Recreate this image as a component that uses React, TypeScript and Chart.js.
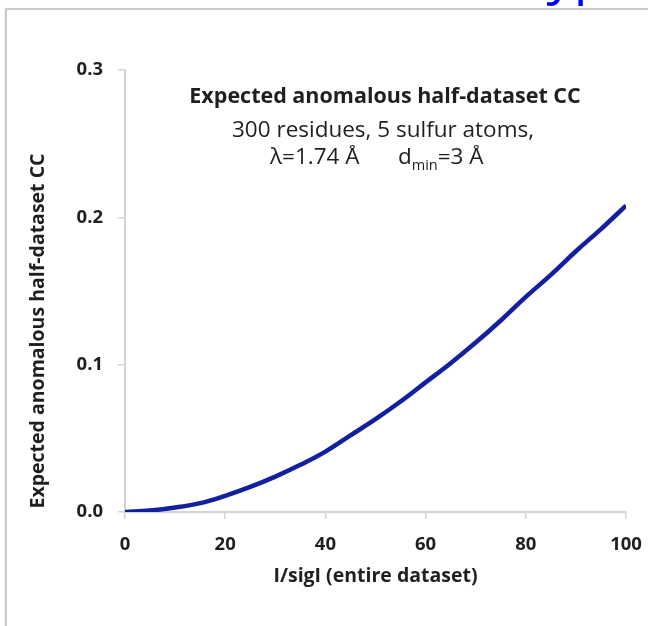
import React, { useEffect, useRef } from "react";
import { Chart, registerables } from "chart.js";

Chart.register(...registerables);

const I_OVER_SIGI = [0, 5, 10, 15, 20, 25, 30, 35, 40, 45, 50, 55, 60, 65, 70, 75, 80, 85, 90, 95, 100];
const EXPECTED_CC = [0, 0.001, 0.003, 0.006, 0.011, 0.017, 0.024, 0.032, 0.041, 0.052, 0.063, 0.075, 0.088, 0.101, 0.115, 0.13, 0.146, 0.161, 0.177, 0.192, 0.208];
const X_TICKS = [0, 20, 40, 60, 80, 100];
const Y_TICKS = [0, 0.1, 0.2, 0.3];

const TITLE = "Expected anomalous half-dataset CC";
const SUBTITLE = "300 residues, 5 sulfur atoms,";
const LINE3_A = "λ=1.74 Å";
const LINE3_D = "d";
const LINE3_SUB = "min";
const LINE3_B = "=3 Å";
const X_TITLE = "I/sigI (entire dataset)";
const Y_TITLE = "Expected anomalous half-dataset CC";
const SLIDE_TEXT = "atom type";

const FONT = "'Open Sans', Lato, sans-serif";
const TEXT_COLOR = "#1f1f1f";

const annotations = {
  id: "annotations",
  afterDraw(chart: any) {
    const ctx = chart.ctx as CanvasRenderingContext2D;
    ctx.save();
    ctx.fillStyle = TEXT_COLOR;
    ctx.textBaseline = "alphabetic";
    ctx.textAlign = "center";
    ctx.font = `bold 21.5px ${FONT}`;
    ctx.fillText(TITLE, 385, 103);
    ctx.font = `22.5px ${FONT}`;
    ctx.fillText(SUBTITLE, 383, 137);

    // third line, left aligned pieces
    ctx.textAlign = "left";
    let x = 270;
    const base = 164;
    ctx.font = `22.5px ${FONT}`;
    ctx.fillText(LINE3_A, x, base);
    x = 398;
    ctx.fillText(LINE3_D, x, base);
    x += ctx.measureText(LINE3_D).width;
    ctx.font = `14.5px ${FONT}`;
    ctx.fillText(LINE3_SUB, x, base + 6);
    x += ctx.measureText(LINE3_SUB).width;
    ctx.font = `22.5px ${FONT}`;
    ctx.fillText(LINE3_B, x, base);

    // slide heading fragment at top right (blue)
    ctx.fillStyle = "#0000ff";
    ctx.font = `60px ${FONT}`;
    const w60 = ctx.measureText(SLIDE_TEXT).width;
    const size = (60 * 258) / w60;
    ctx.font = `${size.toFixed(1)}px ${FONT}`;
    ctx.fillText(SLIDE_TEXT, 380, -7);

    // y axis title
    ctx.fillStyle = TEXT_COLOR;
    ctx.translate(44, 331);
    ctx.rotate(-Math.PI / 2);
    ctx.textAlign = "center";
    ctx.font = `bold 19.5px ${FONT}`;
    ctx.fillText(Y_TITLE, 0, 0);
    ctx.restore();
  },
};

export default function App() {
  const ref = useRef<HTMLCanvasElement | null>(null);
  useEffect(() => {
    if (!ref.current) return;
    const data = I_OVER_SIGI.map((v, i) => ({ x: v, y: EXPECTED_CC[i] }));
    const chart = new Chart(ref.current, {
      type: "line",
      data: {
        datasets: [
          {
            data,
            borderColor: "#12209f",
            borderWidth: 4.5,
            pointRadius: 0,
            tension: 0.4,
            fill: false,
          },
        ],
      },
      options: {
        animation: false,
        responsive: false,
        maintainAspectRatio: false,
        layout: { padding: { left: 0, top: 70, right: 22, bottom: 0 } },
        plugins: { legend: { display: false }, tooltip: { enabled: false } },
        scales: {
          x: {
            type: "linear",
            min: 0,
            max: 100,
            afterFit(scale: any) {
              scale.height = 114;
              scale.paddingLeft = 0;
              scale.paddingRight = 0;
            },
            afterBuildTicks(scale: any) {
              scale.ticks = X_TICKS.map((v) => ({ value: v }));
            },
            ticks: {
              color: TEXT_COLOR,
              font: { family: FONT, size: 18.5, weight: "bold" },
              padding: 15,
              maxRotation: 0,
            },
            grid: {
              drawOnChartArea: false,
              drawTicks: true,
              tickLength: 7,
              color: "#d4d4d4",
              lineWidth: 1.5,
            },
            border: { color: "#d4d4d4", width: 2 },
            title: {
              display: true,
              text: X_TITLE,
              color: TEXT_COLOR,
              font: { family: FONT, size: 19.5, weight: "bold" },
              padding: { top: 0, bottom: 38 },
            },
          },
          y: {
            type: "linear",
            min: 0,
            max: 0.3,
            afterFit(scale: any) {
              scale.width = 125;
              scale.paddingTop = 0;
              scale.paddingBottom = 0;
            },
            afterBuildTicks(scale: any) {
              scale.ticks = Y_TICKS.map((v) => ({ value: v }));
            },
            ticks: {
              color: TEXT_COLOR,
              font: { family: FONT, size: 18.5, weight: "bold" },
              padding: 15,
              callback: (v: any) => Number(v).toFixed(1),
            },
            grid: {
              drawOnChartArea: false,
              drawTicks: true,
              tickLength: 7,
              color: "#d4d4d4",
              lineWidth: 1.5,
            },
            border: { color: "#d4d4d4", width: 2 },
          },
        },
      },
      plugins: [annotations],
    });
    return () => chart.destroy();
  }, []);

  return (
    <div style={{ position: "fixed", left: 0, top: 0, width: 648, height: 626, overflow: "hidden", background: "#fff" }}>
      <div
        style={{
          position: "absolute",
          left: 5,
          top: 8,
          width: 720,
          height: 700,
          borderLeft: "2px solid #c9c9c9",
          borderTop: "2px solid #c9c9c9",
          boxShadow: "0 1px 2px rgba(0,0,0,0.15)",
        }}
      />
      <canvas ref={ref} width={648} height={626} style={{ position: "absolute", left: 0, top: 0 }} />
    </div>
  );
}
